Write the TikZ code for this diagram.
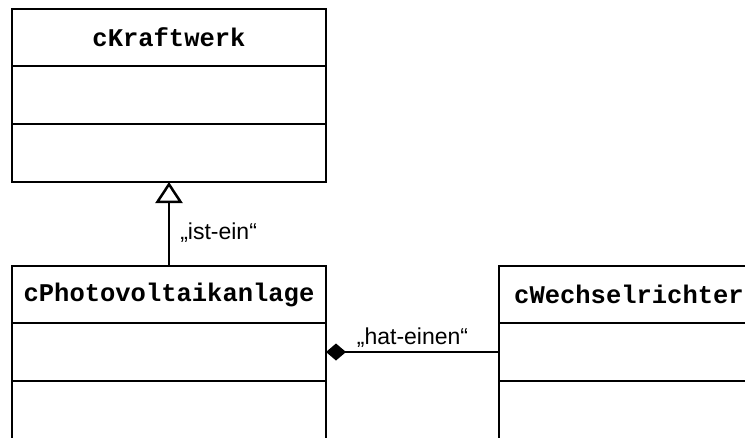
\documentclass[tikz,border=0pt]{standalone}
\usepackage{fontspec}
\setmainfont{Liberation Sans}
\setmonofont{Liberation Mono}
\usetikzlibrary{positioning,arrows.meta}

\begin{document}
\begin{tikzpicture}[x=1pt,y=-1pt,line width=2.5pt,node distance=0pt,
  class head/.style={rectangle,draw,outer sep=0pt,minimum width=314pt,minimum height=57pt,font=\fontsize{25.5}{30}\selectfont\ttfamily\bfseries},
  class part/.style={rectangle,draw,outer sep=0pt,minimum width=314pt,minimum height=58pt},
  label text/.style={font=\fontsize{23}{28}\selectfont}]

    \useasboundingbox (0,0) rectangle (745,437);
    \clip (0,0) rectangle (745,437);

    % Kraftwerk
    \node[class head] (kraft) at (169,37.5) {cKraftwerk};
    \node[class part] (kraft attr) [below=of kraft] {};
    \node[class part] (kraft meth) [below=of kraft attr] {};

    % Photovoltaikanlage
    \node[class head] (pv) [below=84pt of kraft meth] {cPhotovoltaikanlage};
    \node[class part] (pv attr) [below=of pv] {};
    \node[class part] (pv meth) [below=of pv attr] {};

    % Wechselrichter
    \node[class head, minimum width=260pt] (wr) [right=173pt of pv] {cWechselrichter};
    \node[class part, minimum width=260pt] (wr attr) [below=of wr] {};
    \node[class part, minimum width=260pt] (wr meth) [below=of wr attr] {};

    \draw[-{Triangle[open,length=21pt,width=27pt]}] (pv) -- node[label text, right, pos=0.4, inner sep=10pt] {„ist-ein“} (kraft meth);
    \draw[{Diamond[length=20pt,width=17pt]}-] (pv attr) -- node[label text, above, inner sep=3pt] {„hat-einen“} (wr attr);
\end{tikzpicture}
\end{document}
